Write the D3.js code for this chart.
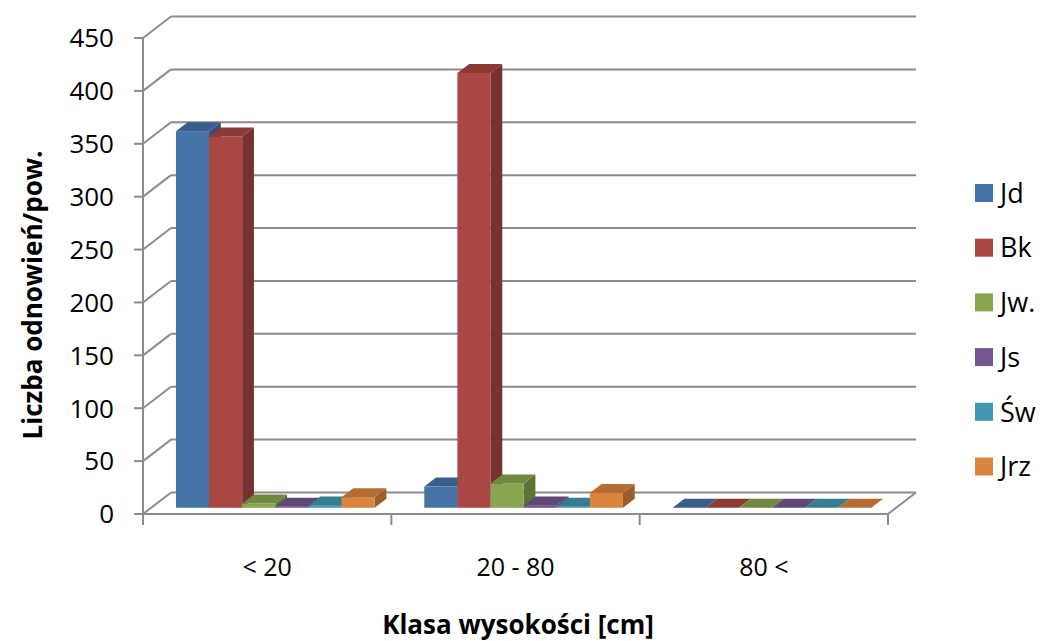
<!DOCTYPE html>
<html>
<head>
<meta charset="utf-8">
<script src="https://cdn.jsdelivr.net/npm/d3@7"></script>
<style>
  body { margin: 0; background: #fff; }
  text { font-family: "Open Sans", sans-serif; fill: #000; }
</style>
</head>
<body>
<script>
// data
const categories = ['< 20', '20 - 80', '80 <'];
const series = ['Jd', 'Bk', 'Jw.', 'Js', 'Św', 'Jrz'];
const colors = ['#4572A7', '#AA4643', '#89A54E', '#71588F', '#4198AF', '#DB843D'];
// values per series, one per category
const Jd  = [356, 20, 0];
const Bk  = [351, 411, 0];
const Jw  = [4, 23, 0];
const Js  = [1, 2, 0];
const Sw  = [2, 1, 0];
const Jrz = [10, 14, 0];
const yTicks = [0, 50, 100, 150, 200, 250, 300, 350, 400, 450];

const values = [Jd, Bk, Jw, Js, Sw, Jrz];

const width = 1043, height = 641;
// full depth of the 3d box (back wall offset)
const DX = 28, DY = -21.5;
// bar depth slot (fraction of full depth)
const f0 = 0.29, f1 = 0.71;

const svg = d3.select('body').append('svg')
    .attr('width', width)
    .attr('height', height);

const x0 = d3.scaleBand().domain(categories).range([143, 888]);
const x1 = d3.scaleBand().domain(series).range([0, x0.bandwidth()]).paddingOuter(0.75);
const y = d3.scaleLinear().domain([0, 450]).range([514, 38]);

const grid = '#8c8c8c';
const g = svg.append('g');

// back wall gridlines + left wall diagonals
yTicks.forEach(t => {
  g.append('line')
    .attr('x1', 143 + DX).attr('x2', 888 + DX)
    .attr('y1', y(t) + DY).attr('y2', y(t) + DY)
    .attr('stroke', grid).attr('stroke-width', 2);
  g.append('line')
    .attr('x1', 143).attr('x2', 143 + DX)
    .attr('y1', y(t)).attr('y2', y(t) + DY)
    .attr('stroke', grid).attr('stroke-width', 2);
});

// floor front edge and right edge
g.append('line')
  .attr('x1', 143).attr('x2', 888).attr('y1', y(0)).attr('y2', y(0))
  .attr('stroke', grid).attr('stroke-width', 2);
g.append('line')
  .attr('x1', 888).attr('x2', 888 + DX).attr('y1', y(0)).attr('y2', y(0) + DY)
  .attr('stroke', grid).attr('stroke-width', 2);

// vertical axis
g.append('line')
  .attr('x1', 143).attr('x2', 143).attr('y1', y(450)).attr('y2', y(0))
  .attr('stroke', grid).attr('stroke-width', 2);
yTicks.forEach(t => {
  g.append('line')
    .attr('x1', 134).attr('x2', 143).attr('y1', y(t)).attr('y2', y(t))
    .attr('stroke', grid).attr('stroke-width', 2);
  g.append('text')
    .attr('x', 114).attr('y', y(t))
    .attr('dy', '0.36em')
    .attr('text-anchor', 'end')
    .style('font-size', '26px')
    .text(t);
});

// category ticks
const edges = categories.map(c => x0(c)).concat([x0(categories[2]) + x0.bandwidth()]);
edges.forEach(e => {
  g.append('line')
    .attr('x1', e).attr('x2', e).attr('y1', y(0)).attr('y2', y(0) + 11)
    .attr('stroke', grid).attr('stroke-width', 2);
});
categories.forEach(c => {
  g.append('text')
    .attr('x', x0(c) + x0.bandwidth() / 2).attr('y', 567)
    .attr('dy', '0.36em')
    .attr('text-anchor', 'middle')
    .style('font-size', '25px')
    .text(c);
});

// bars, drawn left to right
const bars = svg.append('g');
categories.forEach((c, ci) => {
  series.forEach((s, si) => {
    const v = values[si][ci];
    const col = d3.color(colors[si]);
    const topCol = col.darker(0.55).formatHex();
    const sideCol = col.darker(1.0).formatHex();
    const xl = x0(c) + x1(s) + f0 * DX;
    const xr = xl + x1.bandwidth();
    const yb = y(0) + f0 * DY;
    const yt = y(v) + f0 * DY;
    const ddx = (f1 - f0) * DX, ddy = (f1 - f0) * DY;
    const bg = bars.append('g');
    // side
    bg.append('path')
      .attr('d', `M${xr},${yt}L${xr + ddx},${yt + ddy}L${xr + ddx},${yb + ddy}L${xr},${yb}Z`)
      .attr('fill', sideCol);
    // front
    if (v > 0) {
      bg.append('rect')
        .attr('x', xl).attr('y', yt)
        .attr('width', x1.bandwidth()).attr('height', yb - yt)
        .attr('fill', col.formatHex());
    }
    // top
    bg.append('path')
      .attr('d', `M${xl},${yt}L${xl + ddx},${yt + ddy}L${xr + ddx},${yt + ddy}L${xr},${yt}Z`)
      .attr('fill', topCol);
  });
});

// legend
const legend = svg.append('g');
series.forEach((s, i) => {
  const ly = 193 + i * 54.7;
  legend.append('rect')
    .attr('x', 975).attr('y', ly - 9)
    .attr('width', 18).attr('height', 18)
    .attr('fill', colors[i]);
  legend.append('text')
    .attr('x', 1000).attr('y', ly)
    .attr('dy', '0.36em')
    .style('font-size', '27px')
    .text(s);
});

// axis titles
svg.append('text')
  .attr('x', 518).attr('y', 625)
  .attr('dy', '0.36em')
  .attr('text-anchor', 'middle')
  .style('font-size', '26px')
  .style('font-weight', 'bold')
  .text('Klasa wysokości [cm]');

svg.append('text')
  .attr('transform', 'translate(42,295) rotate(-90)')
  .attr('text-anchor', 'middle')
  .style('font-size', '26px')
  .style('font-weight', 'bold')
  .text('Liczba odnowień/pow.');
</script>
</body>
</html>
